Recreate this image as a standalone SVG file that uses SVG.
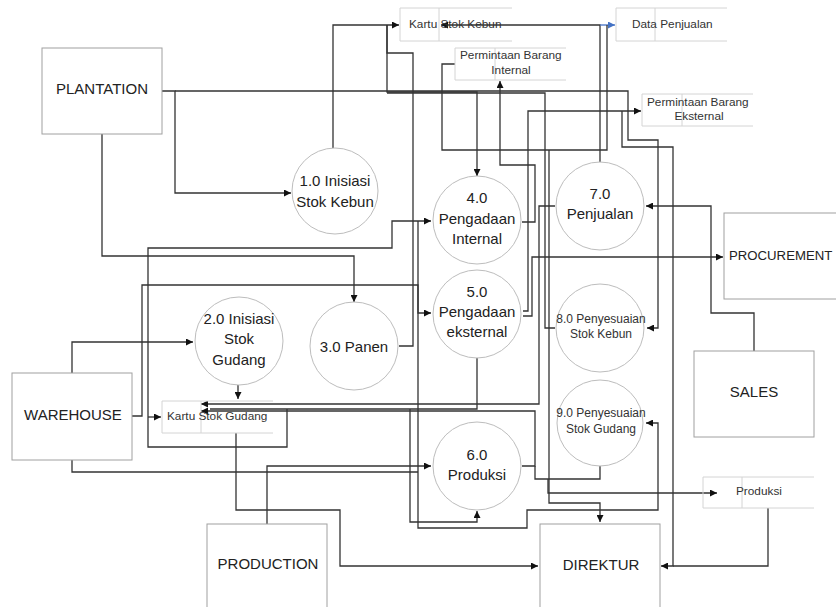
<svg xmlns="http://www.w3.org/2000/svg" width="836" height="607" viewBox="0 0 836 607">
<style>
.c{fill:none;stroke:#333;stroke-width:1.3}
.e{fill:#fff;stroke:#a0a0a0;stroke-width:1}
.p{fill:#fff;stroke:#bdbdbd;stroke-width:1}
.s{fill:none;stroke:#d4d4d4;stroke-width:1}
.t{font-family:"Liberation Sans",Arial,sans-serif;font-size:15px;fill:#222;text-anchor:middle}
.ts{font-family:"Liberation Sans",Arial,sans-serif;font-size:11.8px;fill:#333}
.tp{font-family:"Liberation Sans",Arial,sans-serif;font-size:12px;fill:#333;text-anchor:middle}
</style>
<defs>
<marker id="a" viewBox="0 0 10 10" refX="10" refY="5" markerWidth="7" markerHeight="7" markerUnits="userSpaceOnUse" orient="auto"><path d="M0,0L10,5L0,10z" fill="#111"/></marker>
<marker id="ab" viewBox="0 0 10 10" refX="10" refY="5" markerWidth="7" markerHeight="7" markerUnits="userSpaceOnUse" orient="auto"><path d="M0,0L10,5L0,10z" fill="#4472C4"/></marker>
</defs>
<rect width="836" height="607" fill="#fff"/>
<g id="connectors">
<path class="c" d="M162,91H175V193H291" marker-end="url(#a)"/>
<path class="c" d="M175,91H628V140H658V328H647" marker-end="url(#a)"/>
<path class="c" d="M102,134V256H354V302" marker-end="url(#a)"/>
<path class="c" d="M333,148V25H399" marker-end="url(#a)"/>
<path class="c" d="M399,346H413V53H387V25"/>
<path class="c" d="M387,25V92H477V176" marker-end="url(#a)"/>
<path class="c" d="M387,93H545V328H555"/>
<path class="c" d="M600,163V25H441" marker-end="url(#a)"/>
<path d="M600,25H615" fill="none" stroke="#4472C4" stroke-width="1.3" marker-end="url(#ab)"/>
<path class="c" d="M455,64H442V150H607V25"/>
<path class="c" d="M549,150V503H600V522" marker-end="url(#a)"/>
<path class="c" d="M522,222H535V165H500V81" marker-end="url(#a)"/>
<path class="c" d="M523,311H528V111H641" marker-end="url(#a)"/>
<path class="c" d="M523,316H532V257H723" marker-end="url(#a)"/>
<path class="c" d="M622,111V147H673V566H661" marker-end="url(#a)"/>
<path class="c" d="M768,508V566H673"/>
<path class="c" d="M754,351V313H711V206H646" marker-end="url(#a)"/>
<path class="c" d="M555,206H539V404H201" marker-end="url(#a)"/>
<path class="c" d="M477,357V409H210"/>
<path class="c" d="M522,466H535V411H201" marker-end="url(#a)"/>
<path class="c" d="M535,466V479H600V466"/>
<path class="c" d="M548,479V493H717" marker-end="url(#a)"/>
<path class="c" d="M72,373V342H193" marker-end="url(#a)"/>
<path class="c" d="M238,385V399" marker-end="url(#a)"/>
<path class="c" d="M132,416H142V285H418V313H431" marker-end="url(#a)"/>
<path class="c" d="M148,417H161" marker-end="url(#a)"/>
<path class="c" d="M287,409V447H148V248H392V221H431" marker-end="url(#a)"/>
<path class="c" d="M418,221V528H527V510H658V423H646" marker-end="url(#a)"/>
<path class="c" d="M267,524V466H431" marker-end="url(#a)"/>
<path class="c" d="M72,460V472H418"/>
<path class="c" d="M410,409V522H477V511" marker-end="url(#a)"/>
<path class="c" d="M236,433V510H340V566H538" marker-end="url(#a)"/>
</g>
<g id="plantation"><rect class="e" x="42" y="48" width="120" height="86"/><text class="t" x="102" y="94">PLANTATION</text></g>
<g id="warehouse"><rect class="e" x="12" y="373" width="120" height="87"/><text class="t" x="73" y="420">WAREHOUSE</text></g>
<g id="procurement"><rect class="e" x="724" y="213" width="130" height="86"/><text class="t" x="729" y="260" style="text-anchor:start;font-size:13.2px">PROCUREMENT</text></g>
<g id="sales"><rect class="e" x="694" y="351" width="120" height="86"/><text class="t" x="754" y="397">SALES</text></g>
<g id="production"><rect class="e" x="207" y="524" width="120" height="100"/><text class="t" x="268" y="569">PRODUCTION</text></g>
<g id="direktur"><rect class="e" x="540" y="524" width="120" height="100"/><text class="t" x="601" y="570">DIREKTUR</text></g>
<g id="p1"><circle class="p" cx="335" cy="191" r="43"/><text class="t" x="335" y="186">1.0 Inisiasi</text><text class="t" x="335" y="207">Stok Kebun</text></g>
<g id="p2"><circle class="p" cx="239" cy="341" r="44"/><text class="t" x="239" y="324">2.0 Inisiasi</text><text class="t" x="239" y="344">Stok</text><text class="t" x="239" y="365">Gudang</text></g>
<g id="p3"><circle class="p" cx="354" cy="346" r="44"/><text class="t" x="354" y="352">3.0 Panen</text></g>
<g id="p4"><circle class="p" cx="477" cy="220" r="44"/><text class="t" x="477" y="203">4.0</text><text class="t" x="477" y="224">Pengadaan</text><text class="t" x="477" y="244">Internal</text></g>
<g id="p5"><circle class="p" cx="477" cy="314" r="44"/><text class="t" x="477" y="297">5.0</text><text class="t" x="477" y="317">Pengadaan</text><text class="t" x="477" y="337">eksternal</text></g>
<g id="p6"><circle class="p" cx="477" cy="466" r="44"/><text class="t" x="477" y="460">6.0</text><text class="t" x="477" y="480">Produksi</text></g>
<g id="p7"><circle class="p" cx="600" cy="206" r="44"/><text class="t" x="600" y="199">7.0</text><text class="t" x="600" y="219">Penjualan</text></g>
<g id="p8"><circle class="p" cx="600" cy="328" r="44"/><text class="tp" x="601" y="323">8.0 Penyesuaian</text><text class="tp" x="601" y="338">Stok Kebun</text></g>
<g id="p9"><circle class="p" cx="600" cy="423" r="43"/><text class="tp" x="601" y="417">9.0 Penyesuaian</text><text class="tp" x="601" y="433">Stok Gudang</text></g>
<g id="ds-kartu-kebun"><path class="s" d="M512,8H400V41H512M439,8V41"/><text class="ts" x="409" y="28">Kartu Stok Kebun</text></g>
<g id="ds-data-penjualan"><path class="s" d="M727,8H616V41H727M655,8V41"/><text class="ts" x="632" y="28">Data Penjualan</text></g>
<g id="ds-pbi"><path class="s" d="M566,48H455V80H566M495,48V80"/><text class="ts" x="460" y="59">Permintaan Barang</text><text class="ts" x="511" y="74" style="text-anchor:middle">Internal</text></g>
<g id="ds-pbe"><path class="s" d="M753,94H642V126H753M682,94V126"/><text class="ts" x="647" y="106">Permintaan Barang</text><text class="ts" x="699" y="120" style="text-anchor:middle">Eksternal</text></g>
<g id="ds-kartu-gudang"><path class="s" d="M273,401H162V433H273M201,401V433"/><text class="ts" x="167" y="420">Kartu Stok Gudang</text></g>
<g id="ds-produksi"><path class="s" d="M814,477H703V508H814M742,477V508"/><text class="ts" x="736" y="495">Produksi</text></g>
</svg>
